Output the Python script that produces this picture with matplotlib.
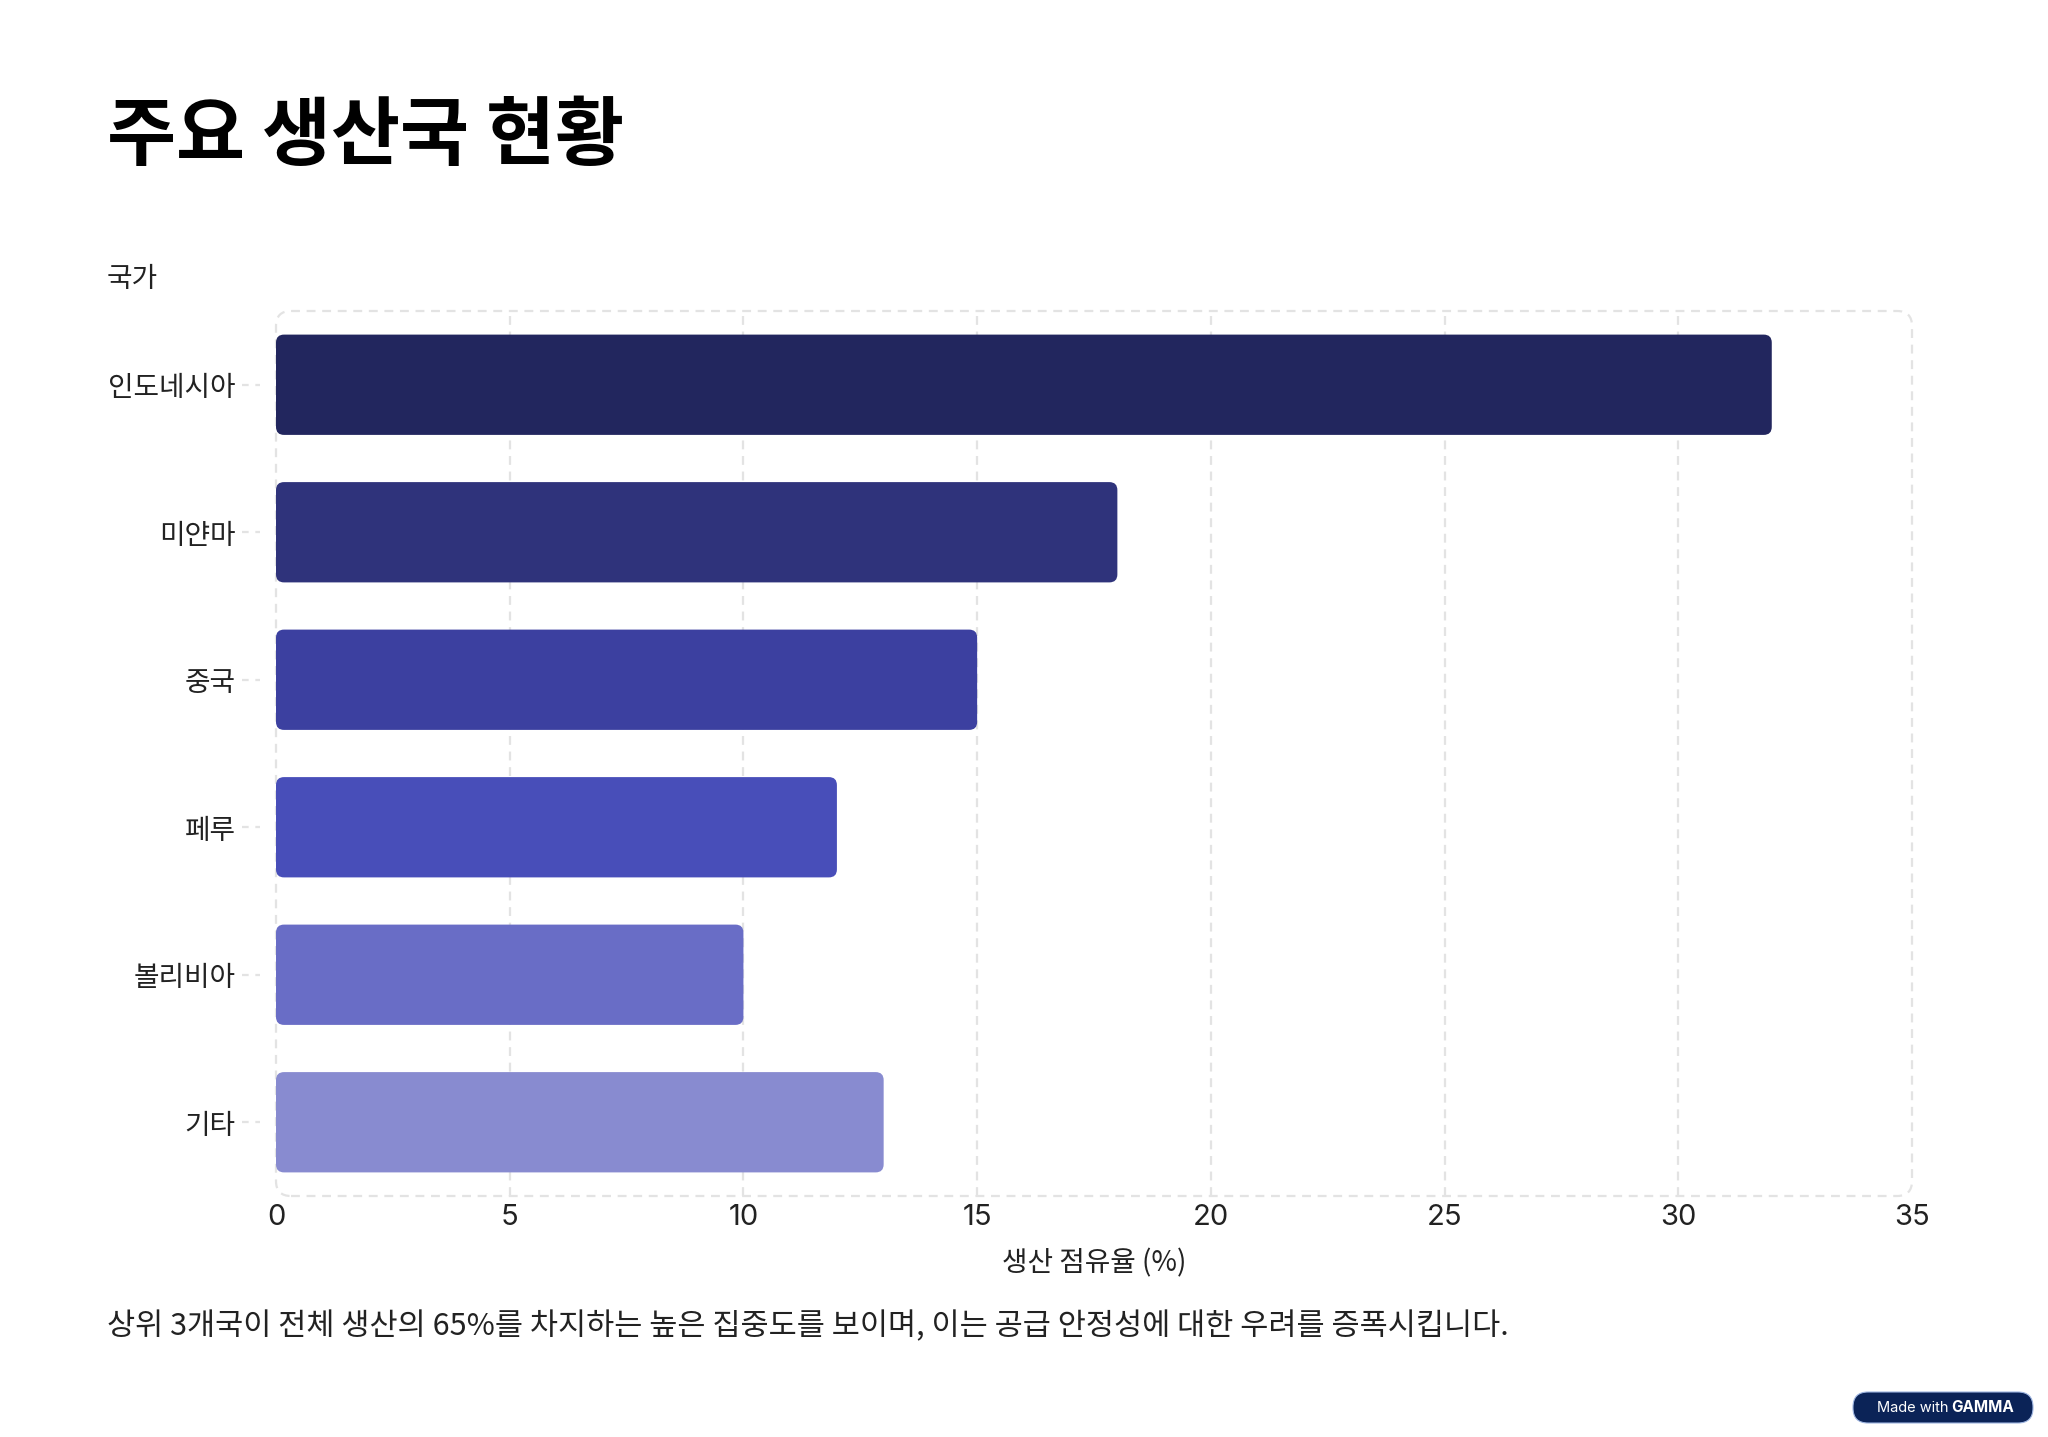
import matplotlib
matplotlib.use("Agg")
import matplotlib.pyplot as plt
from matplotlib.patches import FancyBboxPatch
import numpy as np

plt.rcParams['font.family'] = ['Noto Sans CJK KR', 'DejaVu Sans']

# 데이터
countries = ['인도네시아', '미얀마', '중국', '페루', '볼리비아', '기타']
shares = [32, 18, 15, 12, 10, 13]
bar_colors = ['#22265E', '#2F337B', '#3C40A0', '#484EB9', '#696DC6', '#888BD0']
x_ticks = [0, 5, 10, 15, 20, 25, 30, 35]

title = '주요 생산국 현황'
y_title = '국가'
x_label = '생산 점유율 (%)'
note = '상위 3개국이 전체 생산의 65%를 차지하는 높은 집중도를 보이며, 이는 공급 안정성에 대한 우려를 증폭시킵니다.'

W, H = 2048, 1437
fig = plt.figure(figsize=(W / 100, H / 100), dpi=100)
fig.patch.set_facecolor('white')

ax_l, ax_r, ax_t, ax_b = 276, 1912, 311, 1196
ax = fig.add_axes([ax_l / W, (H - ax_b) / H, (ax_r - ax_l) / W, (ax_b - ax_t) / H])
ax.set_xlim(0, 35)
ax.set_ylim(len(countries) - 0.5, -0.5)
ax.patch.set_alpha(0)
for s in ax.spines.values():
    s.set_visible(False)

grid_c = '#E3E3E3'
for xv in x_ticks[1:-1]:
    ax.axvline(xv, color=grid_c, lw=1.6, ls=(0, (4, 3)), zorder=0)

# 둥근 모서리 막대
px_x = (ax_r - ax_l) / 35
px_y = (ax_b - ax_t) / len(countries)
r = 8
bar_h = 0.68
ypos = np.arange(len(countries))
bars = ax.barh(ypos, shares, height=bar_h, color=bar_colors)
for b in bars:
    x0, y0 = b.get_x(), b.get_y()
    w, h = b.get_width(), b.get_height()
    b.set_visible(False)
    p = FancyBboxPatch((x0, y0), w, h,
                       boxstyle=f'round,pad=0,rounding_size={r / px_x}',
                       mutation_aspect=px_x / px_y,
                       fc=b.get_facecolor(), ec='none', zorder=2)
    ax.add_patch(p)

# 점선 테두리
rad = 15
frame = FancyBboxPatch((ax_l / W, (H - ax_b) / H), (ax_r - ax_l) / W, (ax_b - ax_t) / H,
                       boxstyle=f'round,pad=0,rounding_size={rad / W}',
                       mutation_aspect=W / H, transform=fig.transFigure,
                       fc='none', ec=grid_c, lw=1.6, ls=(0, (4, 3)), zorder=-1)
fig.patches.append(frame)

# 눈금
ax.set_yticks(ypos)
ax.set_yticklabels(countries, fontsize=20, color='#222222')
ax.tick_params(axis='y', length=0, pad=29)
for yv in ypos:
    ax.plot([-34 / (ax_r - ax_l), -16 / (ax_r - ax_l)], [yv, yv], color=grid_c, lw=1.6,
            ls=(0, (3, 3)), transform=ax.get_yaxis_transform(), clip_on=False)

ax.set_xticks(x_ticks)
ax.set_xticklabels([str(v) for v in x_ticks], fontsize=21, color='#222222',
                   family=['Inter', 'DejaVu Sans'])
ax.tick_params(axis='x', length=0, pad=6)
ax.set_xlabel(x_label, fontsize=20, color='#222222', labelpad=12)

fig.text(107 / W, 1 - 137 / H, title, fontsize=54, fontweight='bold', color='black', va='center', ha='left')
fig.text(107 / W, 1 - 279 / H, y_title, fontsize=20, color='#222222', va='center', ha='left')
fig.text(107 / W, 1 - 1327 / H, note, fontsize=22, color='#222222', va='center', ha='left')

# 배지
bx0, bx1, by0, by1 = 1853, 2033, 1392, 1423
badge = FancyBboxPatch((bx0 / W, (H - by1) / H), (bx1 - bx0) / W, (by1 - by0) / H,
                       boxstyle=f'round,pad=0,rounding_size={15 / W}',
                       mutation_aspect=W / H, transform=fig.transFigure,
                       fc='#0B2357', ec='#9DB4E0', lw=0.8)
fig.patches.append(badge)
fig.text(1877 / W, 1 - 1408 / H, 'Made with', fontsize=10.5, color='white', va='center', ha='left',
         family=['Inter', 'DejaVu Sans'])
fig.text(1951 / W, 1 - 1408 / H, 'GAMMA', fontsize=11, fontweight='bold', color='white', va='center', ha='left',
         family=['Inter', 'DejaVu Sans'])

fig.savefig('out.png', dpi=100)
